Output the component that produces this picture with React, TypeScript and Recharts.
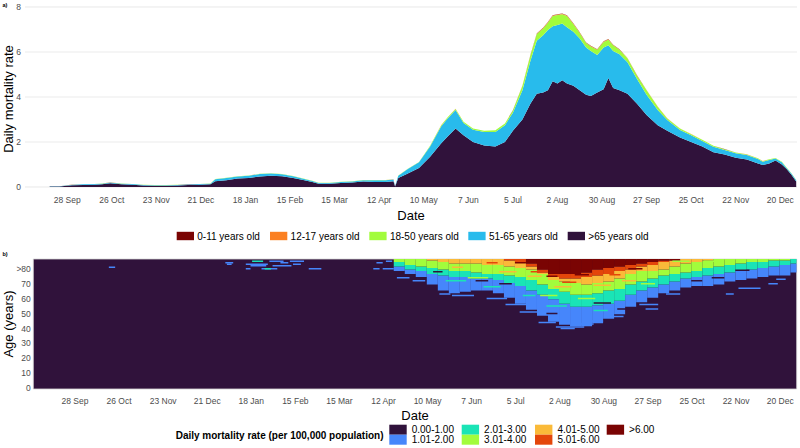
import React from 'react';
import { AreaChart, Area, XAxis, YAxis, CartesianGrid, ComposedChart, ReferenceArea } from 'recharts';

const FONT = '"Liberation Sans", Arial, Helvetica, sans-serif';

// ---- shared date axis (day 0 = 28 Sep 2020) ----
const tickDays = [0, 28, 56, 84, 112, 140, 168, 196, 224, 252, 280, 308, 336, 364, 392, 420, 448];
const tickLabels = ['28 Sep', '26 Oct', '23 Nov', '21 Dec', '18 Jan', '15 Feb', '15 Mar', '12 Apr', '10 May', '7 Jun', '5 Jul', '2 Aug', '30 Aug', '27 Sep', '25 Oct', '22 Nov', '20 Dec'];

// ---- panel a) stacked daily mortality rate ----
const ageGroups = ['0-11 years old', '12-17 years old', '18-50 years old', '51-65 years old', '>65 years old'];
const ageColors = ['#7A0403', '#FB8022', '#A2FC3C', '#28BBEC', '#30123B'];

const days = [-11, -5, 3, 10, 17, 22, 27, 34, 41, 48, 55, 62, 69, 76, 83, 90, 93, 100, 107, 114, 121, 128, 135, 142, 149, 154, 158, 165, 172, 179, 186, 193, 200, 205, 206, 208, 214, 221, 228, 235, 239, 244, 249, 255, 262, 269, 275, 280, 286, 291, 295, 299, 302, 305, 308, 311, 314, 318, 322, 326, 329, 333, 337, 340, 343, 347, 352, 358, 364, 371, 377, 385, 392, 399, 406, 413, 420, 427, 434, 437, 441, 445, 449, 452, 455, 458];
const over65 = [0.02, 0.02, 0.08, 0.09, 0.1, 0.12, 0.17, 0.12, 0.1, 0.07, 0.06, 0.06, 0.07, 0.09, 0.1, 0.12, 0.26, 0.3, 0.38, 0.4, 0.47, 0.5, 0.48, 0.4, 0.3, 0.22, 0.15, 0.15, 0.18, 0.2, 0.24, 0.22, 0.22, 0.26, 0.02, 0.4, 0.6, 0.85, 1.35, 1.95, 2.24, 2.6, 2.3, 2.0, 1.85, 1.8, 2.0, 2.5, 3.0, 3.7, 4.15, 4.2, 4.3, 4.7, 4.6, 4.75, 4.6, 4.5, 4.3, 4.1, 4.05, 4.2, 4.35, 4.85, 4.4, 4.3, 4.15, 3.7, 3.2, 2.75, 2.5, 2.2, 2.0, 1.8, 1.55, 1.45, 1.3, 1.22, 1.05, 0.98, 1.05, 1.18, 1.0, 0.8, 0.55, 0.25];
const age51to65 = [0.01, 0.01, 0.02, 0.03, 0.03, 0.03, 0.03, 0.03, 0.03, 0.02, 0.02, 0.02, 0.02, 0.02, 0.03, 0.03, 0.09, 0.1, 0.09, 0.1, 0.11, 0.1, 0.09, 0.08, 0.06, 0.05, 0.03, 0.03, 0.04, 0.05, 0.06, 0.08, 0.08, 0.07, 0.01, 0.1, 0.2, 0.25, 0.45, 0.75, 0.81, 0.82, 0.55, 0.55, 0.6, 0.65, 0.75, 0.8, 1.3, 1.9, 2.35, 2.55, 2.68, 2.45, 2.6, 2.52, 2.5, 2.4, 2.3, 2.1, 2.0, 1.67, 1.85, 1.45, 1.65, 1.6, 1.4, 1.1, 0.9, 0.67, 0.48, 0.33, 0.3, 0.25, 0.24, 0.2, 0.2, 0.2, 0.2, 0.14, 0.15, 0.09, 0.1, 0.05, 0.05, 0.05];
const age18to50 = [0.005, 0.005, 0.005, 0.005, 0.005, 0.005, 0.005, 0.005, 0.005, 0.005, 0.005, 0.005, 0.005, 0.005, 0.005, 0.005, 0.008, 0.008, 0.008, 0.008, 0.008, 0.008, 0.008, 0.008, 0.008, 0.008, 0.008, 0.008, 0.008, 0.008, 0.008, 0.008, 0.008, 0.008, 0.001, 0.01, 0.01, 0.01, 0.03, 0.05, 0.05, 0.05, 0.05, 0.05, 0.05, 0.07, 0.07, 0.1, 0.2, 0.25, 0.3, 0.3, 0.32, 0.45, 0.45, 0.41, 0.5, 0.35, 0.25, 0.2, 0.2, 0.23, 0.25, 0.25, 0.25, 0.2, 0.17, 0.15, 0.2, 0.15, 0.07, 0.07, 0.05, 0.05, 0.04, 0.03, 0.03, 0.03, 0.03, 0.03, 0.03, 0.02, 0.02, 0.02, 0.01, 0.01];
const age12to17 = [0.001, 0.001, 0.001, 0.001, 0.001, 0.001, 0.001, 0.001, 0.001, 0.001, 0.001, 0.001, 0.001, 0.001, 0.001, 0.001, 0.001, 0.001, 0.001, 0.001, 0.001, 0.001, 0.001, 0.001, 0.001, 0.001, 0.001, 0.001, 0.001, 0.001, 0.001, 0.001, 0.001, 0.001, 0.0, 0.001, 0.001, 0.001, 0.002, 0.003, 0.003, 0.003, 0.003, 0.003, 0.003, 0.003, 0.004, 0.005, 0.008, 0.01, 0.015, 0.015, 0.02, 0.02, 0.02, 0.02, 0.02, 0.02, 0.015, 0.015, 0.015, 0.015, 0.015, 0.015, 0.012, 0.01, 0.01, 0.008, 0.006, 0.005, 0.004, 0.003, 0.003, 0.002, 0.002, 0.002, 0.002, 0.002, 0.002, 0.002, 0.002, 0.001, 0.001, 0.001, 0.001, 0.001];
const age0to11 = [0.001, 0.001, 0.001, 0.001, 0.001, 0.001, 0.001, 0.001, 0.001, 0.001, 0.001, 0.001, 0.001, 0.001, 0.001, 0.001, 0.001, 0.001, 0.001, 0.001, 0.001, 0.001, 0.001, 0.001, 0.001, 0.001, 0.001, 0.001, 0.001, 0.001, 0.001, 0.001, 0.001, 0.001, 0.0, 0.001, 0.001, 0.001, 0.002, 0.002, 0.002, 0.002, 0.002, 0.002, 0.002, 0.002, 0.003, 0.004, 0.006, 0.008, 0.01, 0.01, 0.012, 0.012, 0.012, 0.012, 0.012, 0.012, 0.01, 0.01, 0.01, 0.01, 0.01, 0.01, 0.008, 0.008, 0.006, 0.005, 0.004, 0.003, 0.003, 0.002, 0.002, 0.002, 0.002, 0.002, 0.001, 0.001, 0.001, 0.001, 0.001, 0.001, 0.001, 0.001, 0.001, 0.001];

const seriesKeys = ['child', 'teen', 'young', 'mid', 'old'];
const areaData = days.map((d, i) => ({
  day: d,
  old: over65[i],
  mid: age51to65[i],
  young: age18to50[i],
  teen: age12to17[i],
  child: age0to11[i],
}));

// ---- panel b) heatmap (weekly columns; age where rate first exceeds each level) ----
const heatBins = ['0.00-1.00', '1.01-2.00', '2.01-3.00', '3.01-4.00', '4.01-5.00', '5.01-6.00', '>6.00'];
const heatColors = ['#30123B', '#4686FB', '#1AE4B6', '#A2FC3C', '#FABA39', '#E4460A', '#7A0403'];
const heatDays = [189, 196, 203, 210, 217, 224, 231, 238, 245, 252, 259, 266, 273, 280, 287, 294, 301, 308, 315, 322, 329, 336, 343, 350, 357, 364, 371, 378, 385, 392, 399, 406, 413, 420, 427, 434, 441, 448, 455];
const above1 = [87, 87, 79, 77, 75, 70, 66, 64, 65, 66, 66, 64, 61, 57, 53, 49, 45, 43, 42, 42, 44, 47, 50, 55, 58, 61, 64, 66, 68, 69, 69, 70, 72, 73, 74, 75, 76, 76, 78];
const above2 = [87, 87, 82, 80, 79, 77, 76, 75, 75, 74, 74, 73, 71, 69, 66, 63, 60, 57, 55, 55, 56, 57, 59, 63, 66, 68, 70, 72, 74, 75, 76, 77, 78, 79, 80, 81, 82, 83, 84];
const above3 = [87, 87, 85, 83, 82, 81, 80, 79, 79, 78, 77, 77, 76, 75, 73, 70, 67, 65, 63, 63, 64, 66, 67, 70, 72, 74, 76, 77, 78, 79, 81, 82, 83, 84, 85, 85, 86, 86, 87];
const above4 = [87, 87, 87, 87, 87, 86, 85, 84, 84, 84, 83, 83, 82, 81, 80, 77, 73, 72, 71, 70, 71, 72, 74, 77, 79, 79, 80, 82, 84, 85, 86, 87, 87, 87, 87, 87, 87, 87, 87];
const above5 = [87, 87, 87, 87, 87, 87, 87, 87, 87, 87, 87, 87, 86, 85, 82, 78, 75, 74, 74, 75, 76, 77, 79, 80, 82, 83, 85, 86, 87, 87, 87, 87, 87, 87, 87, 87, 87, 87, 87];
const above6 = [87, 87, 87, 87, 87, 87, 87, 87, 87, 87, 87, 87, 87, 87, 84, 80, 77, 77, 77, 78, 80, 81, 82, 83, 84, 85, 86, 86, 87, 87, 87, 87, 87, 87, 87, 87, 87, 87, 87];
// isolated / streak cells: [first day, last day, age, level]
const sparseCells = [
  [22, 25, 81, 1], [96, 100, 84, 1], [97, 99, 83, 1], [109, 122, 83, 1], [113, 119, 85, 2],
  [109, 111, 80, 1], [112, 121, 82, 1], [119, 128, 80, 1], [121, 124, 80, 2], [124, 132, 85, 1],
  [126, 137, 82, 1], [131, 135, 84, 1], [137, 145, 85, 1], [139, 143, 83, 1], [149, 156, 80, 1],
  [190, 193, 80, 1], [196, 202, 80, 1], [192, 195, 84, 1], [198, 201, 85, 1],
  [205, 212, 74, 1], [215, 222, 72, 1], [232, 238, 63, 1], [240, 253, 62, 1], [262, 274, 60, 1],
  [274, 287, 56, 1], [283, 295, 51, 1], [295, 305, 44, 1], [306, 323, 41, 1], [309, 317, 40, 1],
  [321, 329, 43, 1], [325, 335, 45, 1], [340, 348, 48, 1], [359, 370, 56, 1], [363, 370, 53, 1],
  [376, 384, 63, 1], [414, 418, 63, 1], [422, 435, 67, 1], [441, 446, 70, 1], [446, 451, 73, 1],
  [270, 277, 70, 0], [392, 398, 72, 0], [330, 340, 57, 0], [255, 262, 72, 0], [420, 428, 79, 0],
  [345, 352, 53, 0], [300, 306, 50, 0], [228, 233, 78, 0], [405, 412, 74, 0],
  [300, 312, 55, 2], [330, 338, 52, 2], [260, 270, 68, 2], [236, 248, 72, 2], [285, 292, 62, 2],
  [296, 306, 62, 3], [320, 330, 60, 3], [250, 262, 74, 3], [360, 368, 70, 3], [400, 410, 85, 3],
  [288, 296, 75, 4], [305, 315, 68, 4], [330, 340, 69, 4], [270, 280, 78, 4], [348, 356, 72, 4],
  [380, 390, 85, 3], [240, 246, 81, 4],
  [290, 298, 78, 5], [310, 318, 71, 5], [340, 346, 76, 5], [262, 268, 84, 5],
  [300, 306, 75, 6], [318, 326, 76, 6], [280, 286, 84, 6], [352, 360, 80, 6],
];

const thresholds = [above1, above2, above3, above4, above5, above6];
const heatCells: { x1: number; x2: number; y1: number; y2: number; level: number }[] = [];
heatDays.forEach((d, i) => {
  const x1 = d - 0.5;
  const x2 = Math.min(d + 6.5, 458.5);
  for (let L = 0; L < 6; L++) {
    const lo = thresholds[L][i] - 0.5;
    const hi = Math.min((L < 5 ? thresholds[L + 1][i] : 87) - 0.5, 86.5);
    if (hi > lo) heatCells.push({ x1, x2, y1: lo, y2: hi, level: L + 1 });
  }
});
sparseCells.forEach(([a, b, age, level]) => {
  heatCells.push({ x1: a - 0.5, x2: Math.min(b + 0.5, 458.5), y1: age - 0.5, y2: age + 0.5, level });
});
const heatColumns = heatDays.map((d) => ({ day: d }));
const ageTicks = [0, 10, 20, 30, 40, 50, 60, 70, 80];

const tickStyle = { fontSize: 8.5, fill: '#4D4D4D' };
const fmtDate = (v: number) => tickLabels[tickDays.indexOf(v)] ?? '';

// layout of legend keys (pixels)
const topLegendX = [176.7, 270, 369.3, 468.3, 567.7];
const heatLegendX = [389.3, 389.3, 461.7, 461.7, 535, 535, 606.7];
const heatLegendRow = [0, 1, 0, 1, 0, 1, 0];

export default function App() {
  return (
    <div style={{ position: 'fixed', left: 0, top: 0, width: 800, height: 448, background: '#fff', fontFamily: FONT, overflow: 'hidden' }}>
      <div style={{ position: 'absolute', left: 0, top: 0 }}>
        <AreaChart width={800} height={230} data={areaData} margin={{ top: 7, right: 3, bottom: 23, left: 0 }}>
          <CartesianGrid vertical={false} yAxisId="minor" stroke="#F3F3F3" strokeWidth={0.6} />
          <CartesianGrid vertical={false} stroke="#EBEBEB" strokeWidth={1} />
          <XAxis type="number" dataKey="day" domain={[-26.5, 458.5]} ticks={tickDays} tickFormatter={fmtDate}
            allowDataOverflow axisLine={false} tickLine={false} tickSize={4} tickMargin={6} height={20} tick={tickStyle} interval={0} />
          <YAxis type="number" domain={[0, 8]} ticks={[0, 2, 4, 6, 8]} width={25} axisLine={false} tickLine={false}
            tickSize={2} tickMargin={2} tick={tickStyle} allowDataOverflow />
          <YAxis yAxisId="minor" type="number" hide domain={[0, 8]} ticks={[1, 3, 5, 7]} />
          {['old', 'mid', 'young', 'teen', 'child'].map((k) => (
            <Area key={k} dataKey={k} stackId="a" type="linear" stroke="none" fill={ageColors[seriesKeys.indexOf(k)]}
              fillOpacity={1} isAnimationActive={false} dot={false} activeDot={false} />
          ))}
        </AreaChart>
      </div>
      <div style={{ position: 'absolute', left: 0, top: 240 }}>
        <ComposedChart width={800} height={180} data={heatColumns} margin={{ top: 19, right: 3.3, bottom: 11, left: 0 }}>
          <XAxis type="number" dataKey="day" domain={[-26.5, 458.5]} ticks={tickDays} tickFormatter={fmtDate}
            allowDataOverflow axisLine={false} tickLine={false} tickSize={2} tickMargin={6.5} height={20} tick={tickStyle} interval={0} />
          <YAxis type="number" domain={[-0.5, 86.5]} ticks={ageTicks} tickFormatter={(v: number) => (v === 80 ? '>80' : String(v))}
            width={33.3} axisLine={false} tickLine={false} tickSize={1} tickMargin={1.5} tick={tickStyle} allowDataOverflow interval={0} />
          <ReferenceArea x1={-26.5} x2={458.5} y1={-0.5} y2={86.5} fill={heatColors[0]} fillOpacity={1} stroke="#D6D6D6" strokeWidth={0.8} ifOverflow="visible" />
          {heatCells.map((c, i) => (
            <ReferenceArea key={i} x1={c.x1} x2={c.x2} y1={c.y1} y2={c.y2} fill={heatColors[c.level]} fillOpacity={1} stroke="none" ifOverflow="hidden" />
          ))}
        </ComposedChart>
      </div>
      <svg width={800} height={448} style={{ position: 'absolute', left: 0, top: 0, pointerEvents: 'none' }}>
        <text x={2.5} y={7.3} fontSize={5.5} fontWeight="bold" fill="#000">a)</text>
        <text x={2.5} y={256.3} fontSize={5.5} fontWeight="bold" fill="#000">b)</text>
        <text x={12.6} y={99} fontSize={13} fill="#000" textAnchor="middle" transform="rotate(-90 12.6 99)">Daily mortality rate</text>
        <text x={12.6} y={324} fontSize={13} fill="#000" textAnchor="middle" transform="rotate(-90 12.6 324)">Age (years)</text>
        <text x={411} y={219.5} fontSize={13} fill="#000" textAnchor="middle">Date</text>
        <text x={415} y={419.5} fontSize={13} fill="#000" textAnchor="middle">Date</text>
        {ageGroups.map((g, i) => (
          <g key={g}>
            <rect x={topLegendX[i]} y={231.8} width={17.3} height={8.4} fill={ageColors[i]} />
            <text x={topLegendX[i] + 20.6} y={239.6} fontSize={10} fill="#000">{g}</text>
          </g>
        ))}
        <text x={175.7} y={439} fontSize={10} fontWeight="bold" fill="#000">Daily mortality rate (per 100,000 population)</text>
        {heatBins.map((b, i) => (
          <g key={b}>
            <rect x={heatLegendX[i]} y={424.7 + heatLegendRow[i] * 10} width={17.4} height={10} fill={heatColors[i]} />
            <text x={heatLegendX[i] + 22.4} y={433 + heatLegendRow[i] * 10} fontSize={10} fill="#000">{b}</text>
          </g>
        ))}
      </svg>
    </div>
  );
}
